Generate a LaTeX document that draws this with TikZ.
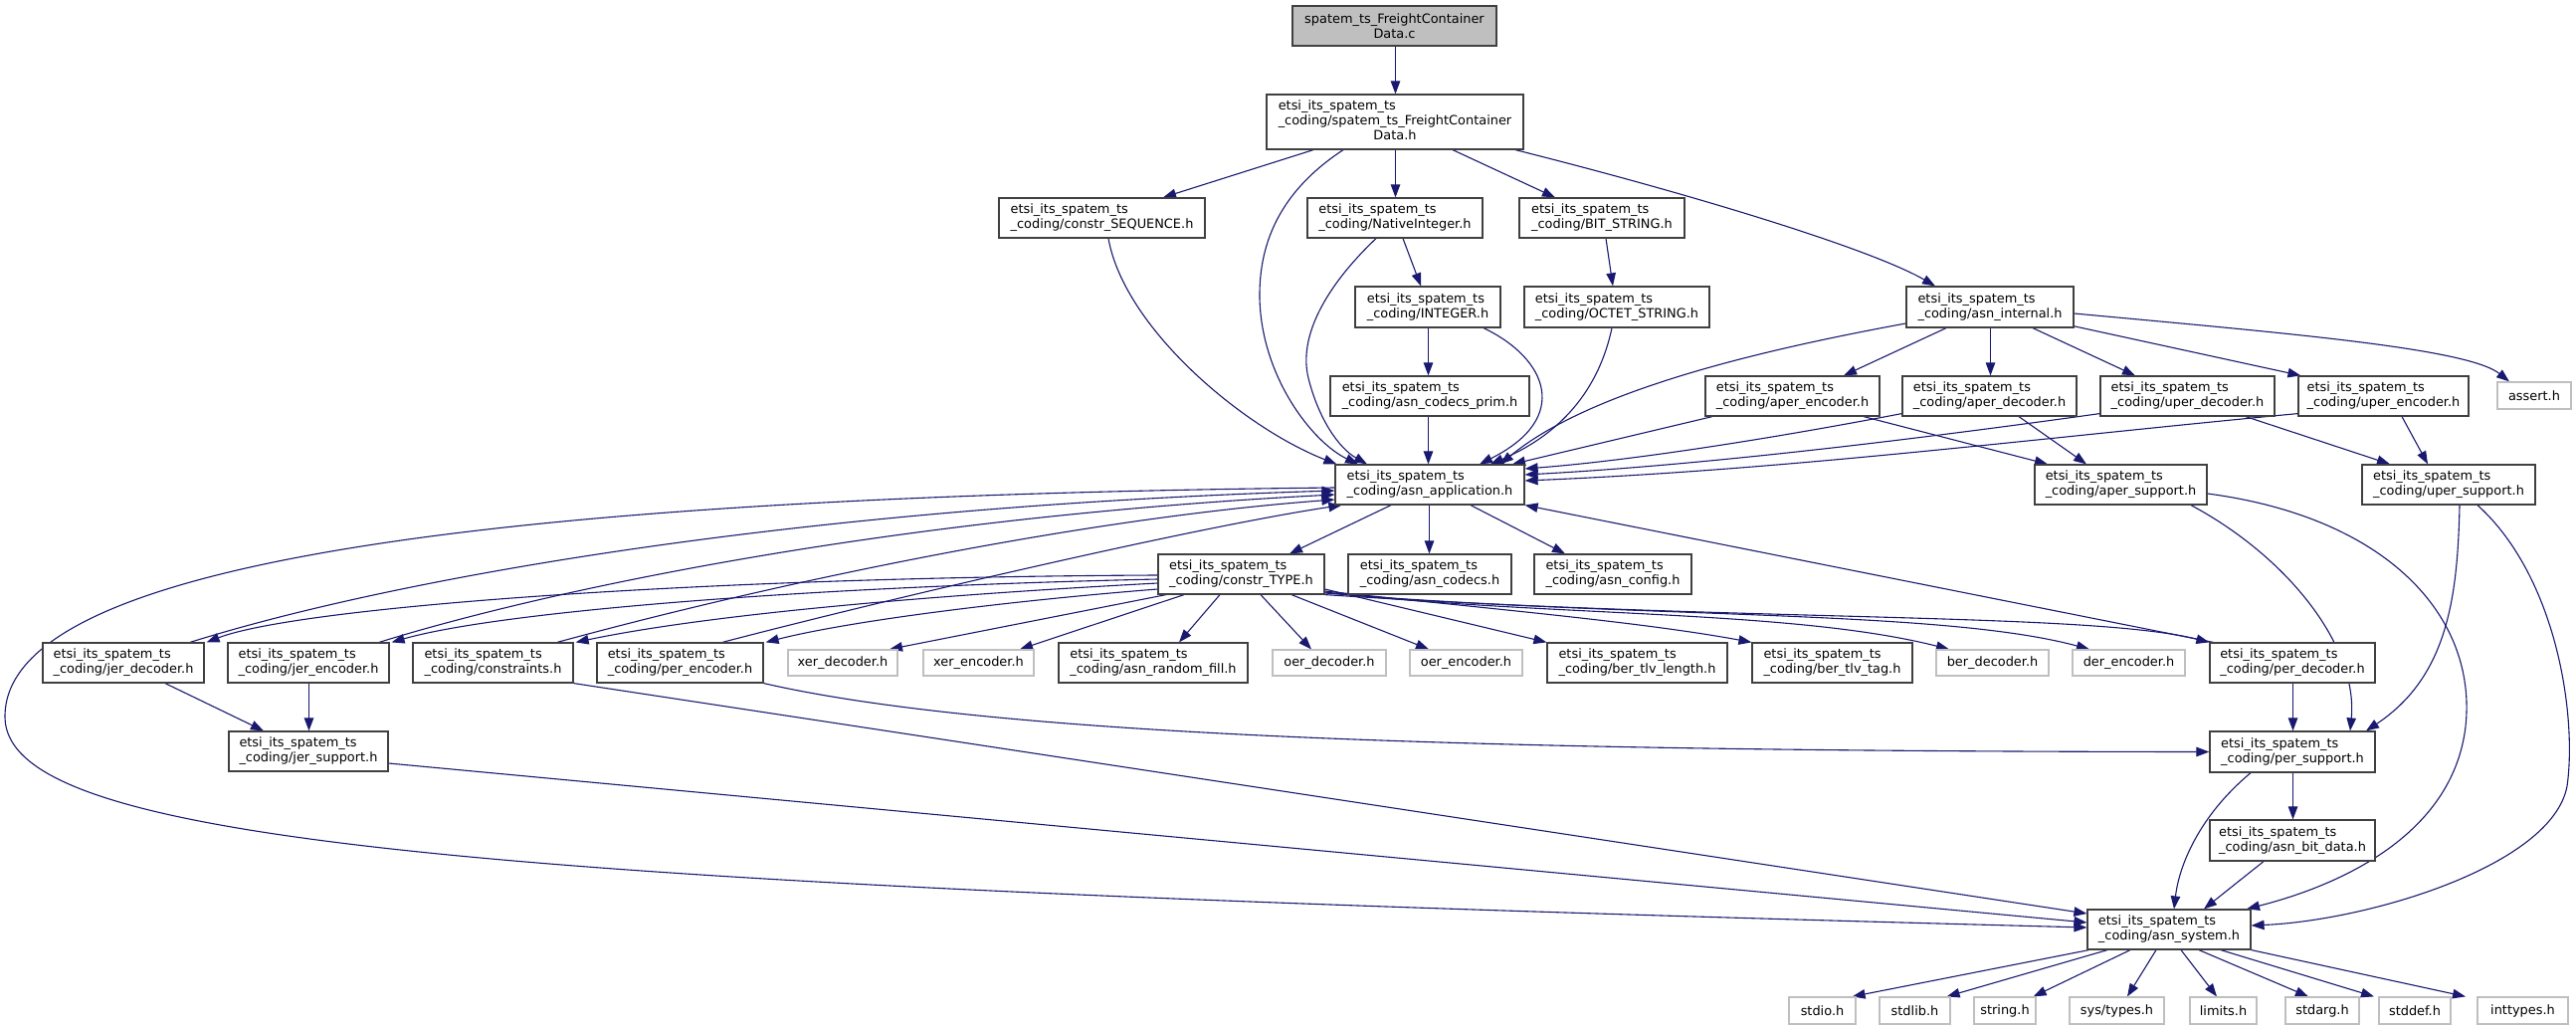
\documentclass[tikz,border=0pt]{standalone}
\usepackage{fontspec}
\setmainfont{DejaVu Sans}
\usetikzlibrary{arrows.meta}
\definecolor{edgeblue}{HTML}{191970}
\definecolor{bordergray}{HTML}{404040}
\definecolor{grayseventyfive}{HTML}{BFBFBF}
\pgfdeclarelayer{bg}
\pgfsetlayers{bg,main}
\newcommand\nd[7]{\node[#1, minimum width={(#4)-(#2)}, minimum height={(#5)-(#3)}] (#6) at ({((#2)+(#4))/2},{((#3)+(#5))/2}) {#7};}
\newcommand\lb[1]{etsi\_its\_spatem\_ts\\\_coding/#1}
\tikzset{
  box/.style={draw=bordergray, line width=1.2pt, fill=white, inner sep=0pt, font=\fontsize{12.9}{15}\selectfont},
  lbox/.style={box, align=left},
  gbox/.style={box, draw=grayseventyfive, align=center},
  topbox/.style={box, fill=grayseventyfive, align=center},
  e/.style={draw=edgeblue, line width=1.1pt, -{Triangle[length=13pt,width=9.5pt]}},
}
\begin{document}
\begin{tikzpicture}[x=1pt,y=-1pt]
\useasboundingbox (0,0) rectangle (2589,1035);
% nodes
\nd{topbox}{1299}{6}{1504}{46}{top}{spatem\_ts\_FreightContainer\\Data.c}
\nd{box}{1273}{95}{1531}{150}{fcd}{\begin{tabular}{@{}l@{}}etsi\_its\_spatem\_ts\\\_coding/spatem\_ts\_FreightContainer\\\multicolumn{1}{@{}c@{}}{Data.h}\end{tabular}}
\nd{lbox}{1004}{199}{1211}{239}{seq}{\lb{constr\_SEQUENCE.h}}
\nd{lbox}{1314}{199}{1490}{239}{ni}{\lb{NativeInteger.h}}
\nd{lbox}{1527}{199}{1693}{239}{bits}{\lb{BIT\_STRING.h}}
\nd{lbox}{1362}{288}{1508}{329}{int}{\lb{INTEGER.h}}
\nd{lbox}{1532}{288}{1718}{329}{oct}{\lb{OCTET\_STRING.h}}
\nd{lbox}{1916}{288}{2084}{329}{intl}{\lb{asn\_internal.h}}
\nd{lbox}{1337}{378}{1537}{418}{prim}{\lb{asn\_codecs\_prim.h}}
\nd{lbox}{1342}{467}{1532}{507}{app}{\lb{asn\_application.h}}
\nd{lbox}{1164}{557}{1331}{597}{type}{\lb{constr\_TYPE.h}}
\nd{lbox}{1355}{557}{1519}{597}{codecs}{\lb{asn\_codecs.h}}
\nd{lbox}{1542}{557}{1700}{597}{config}{\lb{asn\_config.h}}
\nd{lbox}{1714}{378}{1889}{418}{aenc}{\lb{aper\_encoder.h}}
\nd{lbox}{1912}{378}{2087}{418}{adec}{\lb{aper\_decoder.h}}
\nd{lbox}{2111}{378}{2286}{418}{udec}{\lb{uper\_decoder.h}}
\nd{lbox}{2310}{378}{2481}{418}{uenc}{\lb{uper\_encoder.h}}
\nd{gbox}{2510}{384}{2584}{411}{assert}{assert.h}
\nd{lbox}{2045}{467}{2218}{507}{asup}{\lb{aper\_support.h}}
\nd{lbox}{2374}{467}{2548}{507}{usup}{\lb{uper\_support.h}}
\nd{lbox}{43}{646}{205}{686}{jdec}{\lb{jer\_decoder.h}}
\nd{lbox}{229}{646}{391}{686}{jenc}{\lb{jer\_encoder.h}}
\nd{lbox}{415}{646}{576}{686}{cons}{\lb{constraints.h}}
\nd{lbox}{600}{646}{767}{686}{penc}{\lb{per\_encoder.h}}
\nd{gbox}{792}{653}{902}{679}{xdec}{xer\_decoder.h}
\nd{gbox}{928}{653}{1039}{679}{xenc}{xer\_encoder.h}
\nd{lbox}{1064}{646}{1254}{686}{rfill}{\lb{asn\_random\_fill.h}}
\nd{gbox}{1279}{653}{1393}{679}{odec}{oer\_decoder.h}
\nd{gbox}{1417}{653}{1530}{679}{oenc}{oer\_encoder.h}
\nd{lbox}{1555}{646}{1736}{686}{btlen}{\lb{ber\_tlv\_length.h}}
\nd{lbox}{1761}{646}{1922}{686}{bttag}{\lb{ber\_tlv\_tag.h}}
\nd{gbox}{1946}{653}{2059}{679}{bdec}{ber\_decoder.h}
\nd{gbox}{2083}{653}{2196}{679}{denc}{der\_encoder.h}
\nd{lbox}{2221}{646}{2387}{686}{pdec}{\lb{per\_decoder.h}}
\nd{lbox}{230}{735}{390}{775}{jsup}{\lb{jer\_support.h}}
\nd{lbox}{2221}{735}{2387}{776}{psup}{\lb{per\_support.h}}
\nd{lbox}{2221}{824}{2387}{865}{bitd}{\lb{asn\_bit\_data.h}}
\nd{lbox}{2098}{914}{2262}{954}{sys}{\lb{asn\_system.h}}
\nd{gbox}{1798}{1002}{1865}{1029}{stdio}{stdio.h}
\nd{gbox}{1889}{1002}{1960}{1029}{stdlib}{stdlib.h}
\nd{gbox}{1984}{1002}{2046}{1029}{string}{string.h}
\nd{gbox}{2080}{1002}{2175}{1029}{systypes}{sys/types.h}
\nd{gbox}{2201}{1002}{2268}{1029}{limits}{limits.h}
\nd{gbox}{2297}{1002}{2371}{1029}{stdarg}{stdarg.h}
\nd{gbox}{2391}{1002}{2463}{1029}{stddef}{stddef.h}
\nd{gbox}{2490}{1002}{2581}{1029}{inttypes}{inttypes.h}
% edges
\begin{pgfonlayer}{bg}
\fill[white] (0,0) rectangle (2589,1035);
\draw[e] ([xshift=1pt]top.south) -- ([xshift=0.5pt]fcd.north);
\draw[e] ([xshift=-82pt]fcd.south) -- ([xshift=61.5pt]seq.north);
\draw[e] ([xshift=-52pt]fcd.south) .. controls (1290,190) and (1265,240) .. (1266,300) .. controls (1268,380) and (1320,445) .. ([xshift=-72pt]app.north);
\draw[e] ([xshift=0.5pt]fcd.south) -- ([xshift=0.5pt]ni.north);
\draw[e] ([xshift=58pt]fcd.south) -- ([xshift=-47pt]bits.north);
\draw[e] ([xshift=121pt]fcd.south) .. controls (1700,195) and (1880,250) .. ([xshift=-55pt]intl.north);
\draw[e] ([xshift=6.5pt]seq.south) .. controls (1130,330) and (1250,430) .. ([xshift=2pt]app.north west);
\draw[e] ([xshift=8pt]ni.south) -- ([xshift=-7pt]int.north);
\draw[e] ([xshift=-19pt]ni.south) .. controls (1330,290) and (1305,340) .. (1315,380) .. controls (1325,420) and (1345,450) .. ([xshift=-63pt]app.north);
\draw[e] ([xshift=0.5pt]int.south) -- ([xshift=-1.5pt]prim.north);
\draw[e] ([xshift=56pt]int.south) .. controls (1555,360) and (1580,420) .. ([xshift=50pt]app.north);
\draw[e] ([xshift=-5pt]oct.south) .. controls (1605,400) and (1560,440) .. ([xshift=61pt]app.north);
\draw[e] ([xshift=-1.5pt]prim.south) -- ([xshift=-1.5pt]app.north);
\draw[e] ([xshift=4pt]bits.south) -- ([xshift=-4pt]oct.north);
\draw[e] ([yshift=-16.5pt]intl.west) .. controls (1780,350) and (1600,390) .. ([xshift=71pt]app.north);
\draw[e] ([xshift=-44pt]intl.south) -- ([xshift=51.5pt]aenc.north);
\draw[e] ([xshift=0.5pt]intl.south) -- ([xshift=1pt]adec.north);
\draw[e] ([xshift=43pt]intl.south) -- ([xshift=-52.5pt]udec.north);
\draw[e] ([xshift=-1pt,yshift=2pt]intl.south east) -- ([xshift=3pt]uenc.north west);
\draw[e] ([yshift=-6.5pt]intl.east) .. controls (2300,335) and (2480,350) .. ([xshift=-25pt]assert.north);
\draw[e] ([xshift=-80.5pt]aenc.south) -- ([xshift=83pt]app.north);
\draw[e] ([yshift=3pt]adec.south west) .. controls (1800,437) and (1650,462) .. ([yshift=16pt]app.east);
\draw[e] ([yshift=3pt]udec.south west) .. controls (1900,445) and (1700,468) .. ([yshift=10pt]app.east);
\draw[e] ([yshift=3pt]uenc.south west) .. controls (2050,440) and (1800,472) .. ([yshift=4pt]app.east);
\draw[e] ([xshift=71.5pt]aenc.south) -- ([xshift=-73.5pt]asup.north);
\draw[e] ([xshift=29.5pt]adec.south) -- ([xshift=-34.5pt]asup.north);
\draw[e] ([xshift=58.5pt]udec.south) -- ([xshift=-59pt]usup.north);
\draw[e] ([xshift=18.5pt]uenc.south) -- ([xshift=-21pt]usup.north);
\draw[e] ([xshift=70.5pt]asup.south) .. controls (2300,560) and (2370,650) .. ([xshift=58pt]psup.north);
\draw[e] ([yshift=-9pt]asup.east) .. controls (2400,520) and (2490,620) .. (2478,730) .. controls (2465,840) and (2350,890) .. ([xshift=78pt]sys.north);
\draw[e] ([xshift=11pt]usup.south) .. controls (2470,600) and (2460,680) .. ([xshift=74pt]psup.north);
\draw[e] ([xshift=29pt]usup.south) .. controls (2570,580) and (2590,720) .. (2580,790) .. controls (2565,870) and (2380,925) .. ([yshift=4pt]sys.east);
\draw[e] ([xshift=-39pt]app.south) -- ([xshift=48.5pt]type.north);
\draw[e] ([xshift=-0.5pt]app.south) -- ([xshift=-0.5pt]codecs.north);
\draw[e] ([xshift=41pt]app.south) -- ([xshift=-48pt]config.north);
\draw[e] ([yshift=-3pt]app.west) .. controls (400,500) and (5,580) .. (5,720) .. controls (5,850) and (500,890) .. ([yshift=2pt]sys.west);
\draw[e] ([xshift=67pt]jdec.north) .. controls (400,580) and (800,510) .. ([yshift=-6pt]app.west);
\draw[e] ([xshift=71pt]jenc.north) .. controls (560,590) and (900,520) .. ([yshift=-10pt]app.west);
\draw[e] ([xshift=64.5pt]cons.north) .. controls (800,580) and (1100,520) .. ([yshift=-15pt]app.west);
\draw[e] ([xshift=42.5pt]penc.north) .. controls (900,600) and (1200,530) .. ([xshift=7pt]app.south west);
\draw[e] ([yshift=-1pt]type.west) .. controls (700,580) and (300,610) .. ([xshift=2pt]jdec.north east);
\draw[e] ([yshift=-5pt]type.west) .. controls (800,590) and (500,615) .. ([xshift=2pt]jenc.north east);
\draw[e] ([yshift=-9pt]type.west) .. controls (900,600) and (700,620) .. ([xshift=2pt]cons.north east);
\draw[e] ([yshift=-15pt]type.west) .. controls (1000,605) and (850,625) .. ([xshift=2pt]penc.north east);
\draw[e] ([xshift=-75.5pt]type.south) -- ([xshift=47pt]xdec.north);
\draw[e] ([xshift=-57.5pt]type.south) -- ([xshift=41.5pt]xenc.north);
\draw[e] ([xshift=-21.5pt]type.south) -- ([xshift=26pt]rfill.north);
\draw[e] ([xshift=19.5pt]type.south) -- ([xshift=-18pt]odec.north);
\draw[e] ([xshift=50.5pt]type.south) -- ([xshift=-37.5pt]oenc.north);
\draw[e] ([yshift=-15pt]type.east) -- (btlen.north west);
\draw[e] ([yshift=-17pt]type.east) .. controls (1500,612) and (1650,625) .. (bttag.north west);
\draw[e] ([yshift=-18pt]type.east) .. controls (1550,620) and (1800,612) .. ([xshift=-43.5pt]bdec.north);
\draw[e] ([yshift=-19pt]type.east) .. controls (1650,622) and (1950,612) .. ([xshift=-39.5pt]denc.north);
\draw[e] (type.south east) .. controls (1750,625) and (2100,615) .. (pdec.north west);
\draw[e] ([xshift=4pt]pdec.north west) -- (app.south east);
\draw[e] ([xshift=42pt]jdec.south) -- ([xshift=-45pt]jsup.north);
\draw[e] ([xshift=0.5pt]jenc.south) -- ([xshift=0.5pt]jsup.north);
\draw[e] ([yshift=-12pt]jsup.east) -- ([yshift=7pt]sys.west);
\draw[e] (cons.south east) -- ([yshift=16pt]sys.west);
\draw[e] (penc.south east) .. controls (1000,740) and (1500,755) .. (psup.west);
\draw[e] ([xshift=0.5pt]pdec.south) -- ([xshift=0.5pt]psup.north);
\draw[e] ([xshift=0.5pt]psup.south) -- ([xshift=0.5pt]bitd.north);
\draw[e] ([xshift=-42pt]psup.south) .. controls (2210,820) and (2190,870) .. ([xshift=5pt]sys.north);
\draw[e] ([xshift=-29pt]bitd.south) -- ([xshift=35pt]sys.north);
\draw[e] ([xshift=2pt]sys.south west) -- ([xshift=-4pt]stdio.north east);
\draw[e] ([xshift=-62pt]sys.south) -- ([xshift=-4pt]stdlib.north east);
\draw[e] ([xshift=-39pt]sys.south) -- ([xshift=-3pt]string.north east);
\draw[e] ([xshift=-13pt]sys.south) -- ([xshift=10.5pt]systypes.north);
\draw[e] ([xshift=12pt]sys.south) -- ([xshift=-6.5pt]limits.north);
\draw[e] ([xshift=30pt]sys.south) -- ([xshift=-14pt]stdarg.north);
\draw[e] ([xshift=52pt]sys.south) -- ([xshift=-41pt]stddef.north);
\draw[e] (sys.south east) -- ([xshift=-57.5pt]inttypes.north);
\end{pgfonlayer}
\end{tikzpicture}
\end{document}
